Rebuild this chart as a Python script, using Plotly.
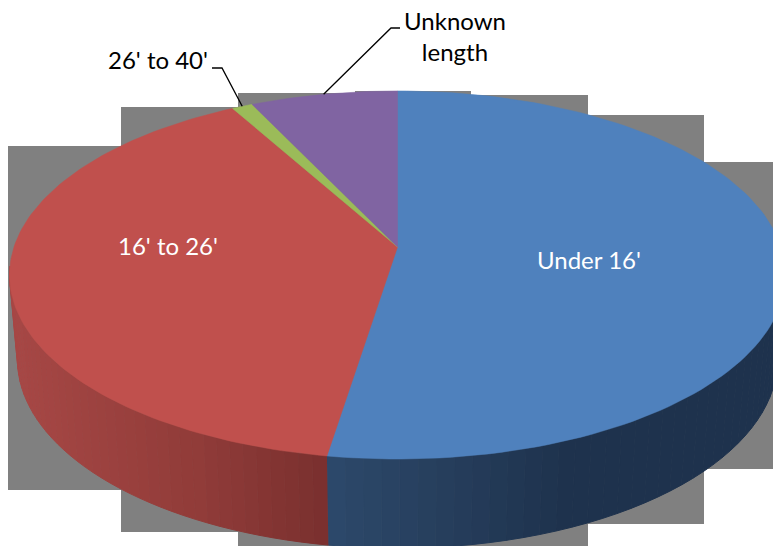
import numpy as np
import plotly.graph_objects as go

# shares of the pie, clockwise from 12 o'clock
labels = ["Under 16'", "16' to 26'", "26' to 40'", "Unknown<br>length"]
shares = [52.5, 39.4, 1.0, 7.1]
top_colors = ["#4F81BD", "#C0504D", "#9BBB59", "#8064A2"]

# wall shade by screen x
wall_x = {
    0: [330, 450, 560, 773],
    1: [10, 200, 328],
}
wall_rgb = {
    0: [(45, 73, 107), (38, 62, 92), (31, 51, 78), (30, 50, 77)],
    1: [(168, 72, 70), (145, 60, 57), (122, 48, 47)],
}

# stepped grey blocks behind the pie: x0, x1, top, bottom
BLOCKS = [
    (8, 121, 146, 490),
    (121, 238, 107, 532),
    (238, 355, 93, 546),
    (355, 471, 91, 546),
    (471, 588, 95, 546),
    (588, 704, 115, 524),
    (704, 773, 162, 469),
]

WIDTH, HEIGHT = 773, 546

# perspective of the disc, screen pixels
CX = 397.5
K = 0.152
TOP_TIP_Y, TOP_A, TOP_B = 247, 179.8, 383.5
BASE_TIP_Y, BASE_A, BASE_B = 331, 184.2, 375.6


def project(t, tip_y, a, b):
    """Screen x, y of a rim point, t in degrees clockwise from the back of the disc."""
    t = np.radians(t)
    u, v = np.sin(t), -np.cos(t)
    d = 1 - K * v
    return CX + b * u / d, tip_y + a * v / d


def top_rim(t):
    return project(t, TOP_TIP_Y, TOP_A, TOP_B)


def base_rim(t):
    return project(t, BASE_TIP_Y, BASE_A, BASE_B)


def wall_color(i, x):
    rgb = [np.interp(x, wall_x[i], [c[n] for c in wall_rgb[i]]) for n in range(3)]
    return "rgb(%d,%d,%d)" % tuple(rgb)


edges = np.concatenate([[0], np.cumsum(shares)]) * 360 / sum(shares)

fig = go.Figure()

# side wall, only the part facing the viewer
for i in [0, 1]:
    start = max(edges[i], 96)
    end = min(edges[i + 1], 264)
    steps = np.linspace(start, end, 41)
    for t0, t1 in zip(steps[:-1], steps[1:]):
        ts = np.linspace(t0, t1, 4)
        tx, ty = top_rim(ts)
        bx, by = base_rim(ts[::-1])
        color = wall_color(i, (tx.mean() + bx.mean()) / 2)
        fig.add_trace(
            go.Scatter(
                x=np.concatenate([tx, bx]),
                y=np.concatenate([ty, by]),
                mode="lines",
                fill="toself",
                fillcolor=color,
                line={"color": color, "width": 1},
                hoverinfo="skip",
            )
        )

# top face
for i, color in enumerate(top_colors):
    ts = np.linspace(edges[i], edges[i + 1], 120)
    rx, ry = top_rim(ts)
    fig.add_trace(
        go.Scatter(
            x=np.concatenate([[CX], rx, [CX]]),
            y=np.concatenate([[TOP_TIP_Y], ry, [TOP_TIP_Y]]),
            mode="lines",
            fill="toself",
            fillcolor=color,
            line={"color": color, "width": 0.5},
            name=labels[i].replace("<br>", " "),
            hoverinfo="name",
        )
    )

# leader lines run from the middle of the thin slices up to their labels
green_x, green_y = top_rim((edges[2] + edges[3]) / 2)
purple_x, purple_y = top_rim((edges[3] + edges[4]) / 2)
for xs, ys in [
    ([212, 222, green_x], [68, 68, green_y]),
    ([400, 391, purple_x], [28, 28, purple_y]),
]:
    fig.add_trace(
        go.Scatter(
            x=xs,
            y=ys,
            mode="lines",
            line={"color": "black", "width": 1.3},
            hoverinfo="skip",
        )
    )

for (x, y), label, color in [
    ((588.5, 259), labels[0], "white"),
    ((168, 245), labels[1], "white"),
    ((158, 59), labels[2], "black"),
    ((455, 36), labels[3], "black"),
]:
    fig.add_annotation(
        x=x,
        y=y,
        text=label,
        showarrow=False,
        font={"family": "Lato", "size": 24, "color": color},
    )

for x0, x1, y0, y1 in BLOCKS:
    fig.add_shape(
        type="rect",
        x0=x0,
        x1=x1,
        y0=y0,
        y1=y1,
        fillcolor="#808080",
        line_width=0,
        layer="below",
    )

fig.update_layout(
    width=WIDTH,
    height=HEIGHT,
    margin={"l": 0, "r": 0, "t": 0, "b": 0},
    paper_bgcolor="white",
    plot_bgcolor="white",
    showlegend=False,
    xaxis={"range": [0, WIDTH], "visible": False, "fixedrange": True},
    yaxis={"range": [HEIGHT, 0], "visible": False, "fixedrange": True},
)

# the page's default body margin would push the figure 8px in
fig.write_html(
    "out.html",
    config={"displayModeBar": False},
    post_script="document.body.style.margin='0';document.body.style.overflow='hidden';",
)
